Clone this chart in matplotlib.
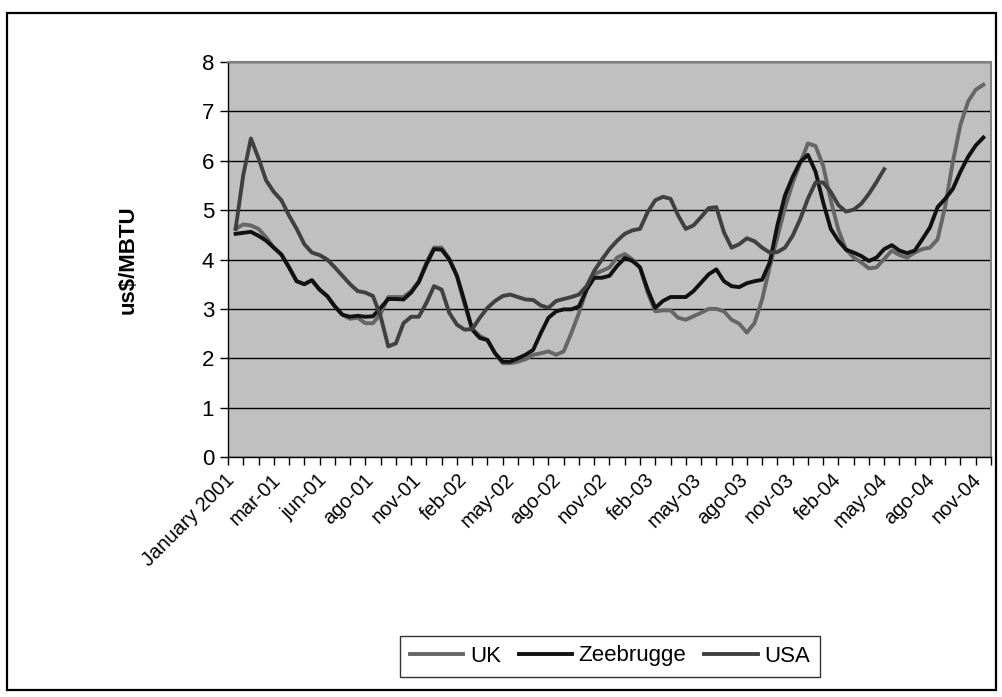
import numpy as np
import matplotlib.pyplot as plt
from matplotlib.patches import Rectangle

plt.rcParams['font.family'] = ['Liberation Sans', 'DejaVu Sans']

# weekly gas prices, us$/MBTU
uk = [4.62, 4.71, 4.69, 4.62, 4.45, 4.24, 4.10, 3.84, 3.56, 3.50,
      3.58, 3.39, 3.26, 3.05, 2.88, 2.80, 2.82, 2.71, 2.71, 2.90,
      3.24, 3.24, 3.24, 3.36, 3.56, 3.94, 4.24, 4.24, 4.02, 3.67,
      3.09, 2.60, 2.45, 2.37, 2.10, 1.90, 1.90, 1.93, 1.98, 2.07,
      2.10, 2.14, 2.07, 2.14, 2.51, 2.92, 3.39, 3.70, 3.77, 3.84,
      4.04, 4.11, 4.00, 3.84, 3.33, 2.95, 2.97, 2.97, 2.82, 2.78,
      2.85, 2.92, 3.00, 3.00, 2.95, 2.78, 2.70, 2.52, 2.71, 3.19,
      3.85, 4.45, 5.05, 5.55, 5.95, 6.35, 6.30, 5.90, 5.20, 4.60,
      4.20, 4.04, 3.94, 3.82, 3.84, 4.01, 4.18, 4.09, 4.04, 4.14,
      4.21, 4.24, 4.41, 5.08, 5.98, 6.73, 7.20, 7.44, 7.54]

zeebrugge = [4.52, 4.54, 4.56, 4.48, 4.38, 4.24, 4.10, 3.84, 3.56, 3.50,
             3.58, 3.39, 3.26, 3.05, 2.88, 2.84, 2.86, 2.84, 2.85, 3.02,
             3.20, 3.20, 3.19, 3.33, 3.54, 3.90, 4.21, 4.20, 4.00, 3.67,
             3.15, 2.58, 2.41, 2.37, 2.10, 1.93, 1.93, 2.00, 2.07, 2.17,
             2.51, 2.82, 2.95, 2.99, 2.99, 3.05, 3.39, 3.63, 3.63, 3.67,
             3.87, 4.03, 3.97, 3.84, 3.39, 3.02, 3.16, 3.24, 3.24, 3.24,
             3.36, 3.53, 3.70, 3.80, 3.56, 3.46, 3.44, 3.52, 3.56, 3.59,
             3.94, 4.69, 5.30, 5.67, 5.98, 6.12, 5.78, 5.16, 4.62, 4.38,
             4.20, 4.14, 4.07, 3.97, 4.04, 4.21, 4.29, 4.18, 4.13, 4.18,
             4.41, 4.65, 5.06, 5.23, 5.43, 5.78, 6.08, 6.31, 6.47]

usa = [4.62, 5.71, 6.45, 6.05, 5.60, 5.37, 5.20, 4.89, 4.62, 4.31,
       4.14, 4.09, 4.00, 3.84, 3.67, 3.50, 3.36, 3.33, 3.26, 2.85,
       2.24, 2.30, 2.71, 2.84, 2.84, 3.12, 3.46, 3.39, 2.92, 2.68,
       2.58, 2.59, 2.82, 3.02, 3.16, 3.26, 3.29, 3.24, 3.19, 3.18,
       3.07, 3.02, 3.16, 3.20, 3.24, 3.29, 3.46, 3.77, 4.00, 4.21,
       4.38, 4.52, 4.59, 4.62, 4.96, 5.20, 5.27, 5.23, 4.89, 4.62,
       4.69, 4.86, 5.04, 5.06, 4.55, 4.24, 4.31, 4.43, 4.37, 4.24,
       4.14, 4.15, 4.24, 4.48, 4.82, 5.23, 5.56, 5.56, 5.37, 5.10,
       4.97, 5.01, 5.13, 5.33, 5.57, 5.83]

date_labels = ['January 2001', 'mar-01', 'jun-01', 'ago-01', 'nov-01',
               'feb-02', 'may-02', 'ago-02', 'nov-02', 'feb-03', 'may-03',
               'ago-03', 'nov-03', 'feb-04', 'may-04', 'ago-04', 'nov-04']

fig = plt.figure(figsize=(10.03, 6.97), dpi=100)
ax = fig.add_axes([228/1003, 1-457/697, 763/1003, 395/697])
ax.set_facecolor('#c0c0c0')

ax.plot(np.arange(len(uk)), uk, color='#666666', lw=2.8, label='UK',
        solid_joinstyle='round')
ax.plot(np.arange(len(zeebrugge)), zeebrugge, color='#111111', lw=2.8,
        label='Zeebrugge', solid_joinstyle='round')
ax.plot(np.arange(len(usa)), usa, color='#404040', lw=2.8, label='USA',
        solid_joinstyle='round')

ax.set_xlim(-1, 99)
ax.set_ylim(0, 8)
ax.set_yticks(range(9))
ax.tick_params(axis='y', labelsize=16, length=6, width=1, pad=4, direction='out')
ax.yaxis.grid(True, color='black', lw=1.0)
ax.set_axisbelow(True)

ax.set_xticks([])
ax.set_xticks(np.arange(-1, 100, 2), minor=True)
ax.tick_params(axis='x', which='minor', length=6, width=1, direction='out')

label_x = -0.6 + 6.12*np.arange(len(date_labels))
for xp, lab in zip(label_x, date_labels):
    ax.text(xp, -0.05, lab, transform=ax.get_xaxis_transform(),
            rotation=45, ha='right', va='center', rotation_mode='anchor',
            fontsize=14.5)

for s in ['left', 'bottom']:
    ax.spines[s].set_color('black')
    ax.spines[s].set_linewidth(1.0)
for s in ['top', 'right']:
    ax.spines[s].set_color('#808080')
    ax.spines[s].set_linewidth(1.5)

fig.text(128/1003, 1-260/697, 'us$/MBTU', rotation=90, ha='center',
         va='center', fontsize=16, fontweight='bold')

leg = fig.legend(loc='center', bbox_to_anchor=(610/1003, 1-656/697), ncol=3,
                 fontsize=16, frameon=True, fancybox=False, handlelength=2.4,
                 handletextpad=0.3, columnspacing=0.8, borderpad=0.45)
leg.get_frame().set_edgecolor('black')
leg.get_frame().set_linewidth(1.0)

fig.patches.append(Rectangle((7/1003, 1-690/697), 989/1003, 677/697,
                             transform=fig.transFigure, fill=False,
                             edgecolor='black', lw=1.6))

fig.savefig('out.png', dpi=100)
